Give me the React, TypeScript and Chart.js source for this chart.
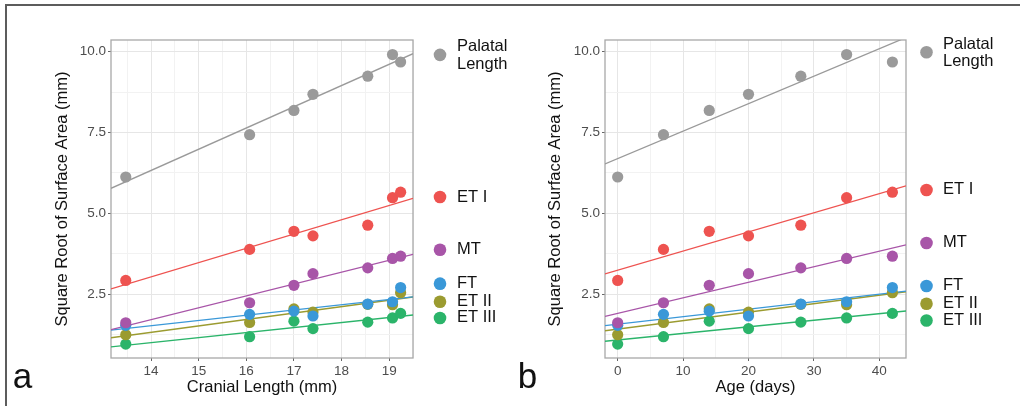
import React, { useEffect, useRef } from 'react';
import { Chart, registerables } from 'chart.js';

Chart.register(...registerables);

// ---- data ----
const seriesNames = ['Palatal Length', 'ET I', 'MT', 'FT', 'ET II', 'ET III'];
const cranialLength = [13.47, 16.07, 17.0, 17.4, 18.55, 19.07, 19.24];
const ageDays = [0, 7, 14, 20, 28, 35, 42];
const palatalLength = [6.12, 7.43, 8.18, 8.68, 9.24, 9.91, 9.68];
const etI = [2.92, 3.88, 4.44, 4.3, 4.63, 5.48, 5.65];
const mt = [1.61, 2.23, 2.77, 3.13, 3.31, 3.6, 3.67];
const ft = [1.53, 1.87, 1.97, 1.82, 2.19, 2.26, 2.7];
const etII = [1.24, 1.62, 2.04, 1.94, 2.18, 2.17, 2.54];
const etIII = [0.95, 1.18, 1.66, 1.43, 1.63, 1.76, 1.9];
const seriesValues = [palatalLength, etI, mt, ft, etII, etIII];
const seriesColors = ['#9a9a9a', '#ee5350', '#a855a8', '#3a98d8', '#9b9b30', '#2bb46a'];

// label anchor heights (data units) for the side legends
const labelAnchorsA = [9.9, 5.5, 3.87, 2.82, 2.26, 1.76];
const labelAnchorsB = [9.98, 5.72, 4.08, 2.75, 2.2, 1.68];

const FONT = '"Liberation Sans", Arial, Helvetica, sans-serif';

function fitLine(xs: number[], ys: number[]) {
  const n = xs.length;
  const mx = xs.reduce((s, v) => s + v, 0) / n;
  const my = ys.reduce((s, v) => s + v, 0) / n;
  let sxy = 0;
  let sxx = 0;
  for (let i = 0; i < n; i++) {
    sxy += (xs[i] - mx) * (ys[i] - my);
    sxx += (xs[i] - mx) * (xs[i] - mx);
  }
  const slope = sxy / sxx;
  return (x: number) => my + slope * (x - mx);
}

const isMajor = (v: number, m: number) => Math.abs(v / m - Math.round(v / m)) < 1e-6;

type PanelProps = {
  left: number;
  xValues: number[];
  xMin: number;
  xMax: number;
  xStep: number;
  xMajor: number;
  xTitle: string;
  yWidth: number;
  yTitlePad: number;
  padRight: number;
  anchors: number[];
  dotOffset: number;
  textOffset: number;
};

function Panel(p: PanelProps) {
  const ref = useRef<HTMLCanvasElement | null>(null);
  useEffect(() => {
    if (!ref.current) return;
    const datasets: any[] = [];
    seriesValues.forEach((vals, i) => {
      const f = fitLine(p.xValues, vals);
      datasets.push({
        label: seriesNames[i] + ' fit',
        data: [
          { x: p.xMin, y: f(p.xMin) },
          { x: p.xMax, y: f(p.xMax) },
        ],
        showLine: true,
        borderColor: seriesColors[i],
        borderWidth: 1.3,
        pointRadius: 0,
        order: 10 + i,
      });
    });
    seriesValues.forEach((vals, i) => {
      datasets.push({
        label: seriesNames[i],
        data: p.xValues.map((x, k) => ({ x, y: vals[k] })),
        showLine: false,
        pointRadius: 5.6,
        pointBorderWidth: 0,
        pointBackgroundColor: seriesColors[i],
        backgroundColor: seriesColors[i],
        order: i,
      });
    });

    const panelPlugin = {
      id: 'panelDeco',
      beforeDatasetsDraw(chart: any) {
        const { ctx, chartArea: a } = chart;
        ctx.save();
        ctx.strokeStyle = '#a8a8a8';
        ctx.lineWidth = 1.3;
        ctx.strokeRect(a.left, a.top, a.right - a.left, a.bottom - a.top);
        ctx.restore();
      },
      afterDraw(chart: any) {
        const { ctx, chartArea: a } = chart;
        const ys = chart.scales.y;
        ctx.save();
        ctx.font = `16.5px ${FONT}`;
        ctx.textBaseline = 'middle';
        ctx.textAlign = 'left';
        p.anchors.forEach((v, i) => {
          const y = ys.getPixelForValue(v);
          ctx.fillStyle = seriesColors[i];
          ctx.beginPath();
          ctx.arc(a.right + p.dotOffset, y, 6.3, 0, Math.PI * 2);
          ctx.fill();
          ctx.fillStyle = '#111';
          const words = seriesNames[i].split(' ');
          if (i === 0) {
            ctx.fillText(words[0], a.right + p.textOffset, y - 8);
            ctx.fillText(words[1], a.right + p.textOffset, y + 9.5);
          } else {
            ctx.fillText(seriesNames[i], a.right + p.textOffset, y);
          }
        });
        ctx.restore();
      },
    };

    const chart = new Chart(ref.current, {
      type: 'scatter',
      data: { datasets },
      plugins: [panelPlugin],
      options: {
        animation: false,
        responsive: false,
        devicePixelRatio: 1,
        events: [],
        layout: { padding: { left: 0, top: 40, right: p.padRight, bottom: 0 } },
        plugins: { legend: { display: false }, tooltip: { enabled: false } },
        scales: {
          x: {
            type: 'linear',
            min: p.xMin,
            max: p.xMax,
            afterFit: (s: any) => {
              s.height = 48;
            },
            ticks: {
              stepSize: p.xStep,
              includeBounds: false,
              autoSkip: false,
              maxRotation: 0,
              padding: 2,
              color: '#4d4d4d',
              font: { family: FONT, size: 13.5 },
              callback: (v: any) => (isMajor(Number(v), p.xMajor) ? String(v) : ''),
            },
            grid: {
              color: (c: any) => (c.tick && isMajor(c.tick.value, p.xMajor) ? '#e6e6e6' : '#f2f2f2'),
              lineWidth: 1,
              drawTicks: true,
              tickLength: 3,
              tickColor: (c: any) => (c.tick && isMajor(c.tick.value, p.xMajor) ? '#666' : 'rgba(0,0,0,0)'),
            },
            border: { display: false },
            title: {
              display: true,
              text: p.xTitle,
              color: '#111',
              font: { family: FONT, size: 16.5 },
              padding: { top: 0, bottom: 9 },
            },
          },
          y: {
            type: 'linear',
            min: 0.52,
            max: 10.36,
            afterFit: (s: any) => {
              s.width = p.yWidth;
            },
            ticks: {
              stepSize: 1.25,
              includeBounds: false,
              autoSkip: false,
              padding: 2,
              color: '#4d4d4d',
              font: { family: FONT, size: 13.5 },
              callback: (v: any) => (isMajor(Number(v), 2.5) ? Number(v).toFixed(1) : ''),
            },
            grid: {
              color: (c: any) => (c.tick && isMajor(c.tick.value, 2.5) ? '#e6e6e6' : '#f2f2f2'),
              lineWidth: 1,
              drawTicks: true,
              tickLength: 3,
              tickColor: (c: any) => (c.tick && isMajor(c.tick.value, 2.5) ? '#666' : 'rgba(0,0,0,0)'),
            },
            border: { display: false },
            title: {
              display: true,
              text: 'Square Root of Surface Area (mm)',
              color: '#111',
              font: { family: FONT, size: 16.5 },
              padding: { top: p.yTitlePad, bottom: 0 },
            },
          },
        },
      } as any,
    });
    return () => chart.destroy();
  }, []);
  return (
    <canvas
      ref={ref}
      width={510}
      height={406}
      style={{ position: 'absolute', left: p.left, top: 0, width: 510, height: 406 }}
    />
  );
}

const tagStyle = (left: number): React.CSSProperties => ({
  position: 'absolute',
  left,
  top: 358,
  fontFamily: FONT,
  fontSize: 35,
  lineHeight: 1,
  color: '#111',
});

export default function App() {
  return (
    <div
      style={{
        position: 'fixed',
        left: 0,
        top: 0,
        width: 1020,
        height: 406,
        background: '#fff',
        overflow: 'hidden',
      }}
    >
      <div
        style={{
          position: 'absolute',
          left: 5,
          top: 4,
          width: 1040,
          height: 430,
          borderTop: '2px solid #5c5c5c',
          borderLeft: '2px solid #5c5c5c',
        }}
      />
      <Panel
        left={0}
        xValues={cranialLength}
        xMin={13.16}
        xMax={19.5}
        xStep={0.5}
        xMajor={1}
        xTitle="Cranial Length (mm)"
        yWidth={111}
        yTitlePad={53}
        padRight={97}
        anchors={labelAnchorsA}
        dotOffset={27}
        textOffset={44}
      />
      <Panel
        left={510}
        xValues={ageDays}
        xMin={-1.94}
        xMax={44.08}
        xStep={5}
        xMajor={10}
        xTitle="Age (days)"
        yWidth={95}
        yTitlePad={36}
        padRight={114}
        anchors={labelAnchorsB}
        dotOffset={20.5}
        textOffset={37}
      />
      <div style={tagStyle(12.7)}>a</div>
      <div style={tagStyle(517.7)}>b</div>
    </div>
  );
}
